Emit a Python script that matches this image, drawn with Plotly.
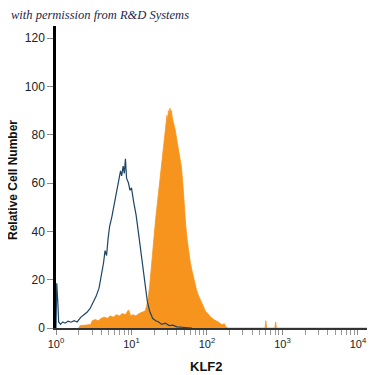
import plotly.graph_objects as go

# Isotype control (blue outline): log10 fluorescence, relative cell number
CTRL_LOG = [0.00, 0.01, 0.025, 0.035, 0.06, 0.09, 0.12, 0.16, 0.20, 0.24, 0.28, 0.33,
            0.37, 0.41, 0.45, 0.49, 0.53, 0.57, 0.60, 0.63, 0.65, 0.67, 0.69, 0.71,
            0.74, 0.77, 0.80, 0.83, 0.855, 0.87, 0.89, 0.905, 0.92, 0.935, 0.96, 0.98,
            1.00, 1.03, 1.06, 1.09, 1.12, 1.15, 1.18, 1.21, 1.24, 1.28, 1.32, 1.36,
            1.40, 1.45, 1.50, 1.55, 1.60, 1.70, 1.80]
CTRL_COUNT = [0, 18.5, 10, 2.5, 1.5, 2.5, 2, 2.8, 2.4, 3, 2.5, 4.5,
              5.5, 6.5, 8, 10.5, 13, 16.5, 21, 27, 32, 30, 37, 42,
              46, 51, 56, 62, 65, 63, 67, 64, 70, 62, 60, 57,
              58, 52, 47, 40, 33, 25, 18, 11, 7, 4, 3, 2.5,
              1.5, 2, 1, 1.2, 0.5, 0.2, 0]

# KLF2 stained (orange filled)
KLF2_LOG = [0.30, 0.32, 0.40, 0.46, 0.48, 0.52, 0.56, 0.60, 0.64, 0.68, 0.72, 0.76,
            0.80, 0.84, 0.88, 0.92, 0.96, 0.99, 1.02, 1.06, 1.10, 1.14, 1.18, 1.20,
            1.22, 1.24, 1.26, 1.28, 1.30, 1.32, 1.34, 1.36, 1.38, 1.40, 1.42, 1.44,
            1.46, 1.47, 1.48, 1.49, 1.50, 1.51, 1.52, 1.53, 1.54, 1.56, 1.58, 1.60,
            1.62, 1.64, 1.66, 1.68, 1.70, 1.72, 1.74, 1.76, 1.78, 1.80, 1.82, 1.84,
            1.86, 1.88, 1.90, 1.92, 1.95, 1.98, 2.01, 2.05, 2.10, 2.15, 2.20, 2.23,
            2.25, 2.28, 2.77, 2.78, 2.79, 2.90, 2.91, 2.92, 4.2]
KLF2_COUNT = [0, 1, 1.2, 1.5, 3, 3.5, 3, 4, 4.5, 4, 5, 4.5,
              5.5, 5, 6, 5.5, 7.5, 5, 5.5, 5, 6, 6.5, 7, 9,
              12, 17, 23, 30, 38, 45, 51, 57, 63, 69, 75, 80,
              85, 88, 86, 90, 88, 91, 89, 90, 87, 85, 82, 78,
              74, 70, 67, 60, 49, 42, 36, 31, 27, 24, 21, 18,
              16, 14, 12.5, 11, 9, 7, 6, 4.5, 3.3, 2.5, 1.3, 1.8,
              0.5, 0, 0, 3, 0, 0, 2.5, 0, 0]

Y_TICKS = [0, 20, 40, 60, 80, 100, 120]
X_DECADES = [0, 1, 2, 3, 4]

ctrl_x = [10 ** v for v in CTRL_LOG]
klf2_x = [10 ** v for v in KLF2_LOG]

major_vals = [10 ** d for d in X_DECADES]
major_text = [f"10<sup>{d}</sup>" for d in X_DECADES]
minor_vals = [m * 10 ** d for d in X_DECADES[:-1] for m in range(2, 10)]

fig = go.Figure()
fig.add_trace(go.Scatter(x=klf2_x, y=KLF2_COUNT, mode="lines", fill="tozeroy",
                         line=dict(color="#F7941D", width=0.8), fillcolor="#F7941D",
                         hoverinfo="skip"))
fig.add_trace(go.Scatter(x=ctrl_x, y=CTRL_COUNT, mode="lines",
                         line=dict(color="#1B4565", width=1.2), hoverinfo="skip"))

fig.update_layout(
    width=367, height=367, showlegend=False,
    margin=dict(l=48, r=2, t=18, b=47),
    paper_bgcolor="white", plot_bgcolor="white",
    font=dict(family="Liberation Sans, Arial, sans-serif", color="#222"),
    xaxis=dict(type="log", range=[0, 4.2], showgrid=False, zeroline=False,
               showline=True, linecolor="#333", linewidth=1.5,
               tickmode="array", tickvals=major_vals, ticktext=major_text,
               ticks="outside", ticklen=5, tickcolor="#888", tickwidth=1,
               tickfont=dict(size=11, color="#222"),
               minor=dict(tickmode="array", tickvals=minor_vals, ticks="outside",
                          ticklen=5, tickcolor="#999", tickwidth=1, showgrid=False)),
    yaxis=dict(range=[0, 125], showgrid=False, zeroline=False,
               showline=True, linecolor="black", linewidth=2.5,
               tickmode="array", tickvals=Y_TICKS,
               ticks="outside", ticklen=6, tickcolor="#888", tickwidth=1,
               tickfont=dict(size=12, color="#222")),
    annotations=[
        dict(text="<b>KLF2</b>", xref="x", yref="paper", x=2, y=0,
             yanchor="middle", yshift=-38, showarrow=False,
             font=dict(family="Liberation Sans, Arial", size=13, color="#111")),
        dict(text="<b>Relative Cell Number</b>", xref="paper", yref="paper", x=0, y=0.49,
             xanchor="center", yanchor="middle", xshift=-43, textangle=-90, showarrow=False,
             font=dict(family="Liberation Sans, Arial", size=12, color="#111")),
        dict(text="<i>with permission from R&amp;D Systems</i>", xref="paper", yref="paper",
             x=0, y=1, xanchor="left", yanchor="middle", xshift=-47, yshift=11, showarrow=False,
             font=dict(family="Liberation Serif, DejaVu Serif, serif", size=12.5, color="#1a1f4f")),
    ],
)

fig.write_html("out.html")
